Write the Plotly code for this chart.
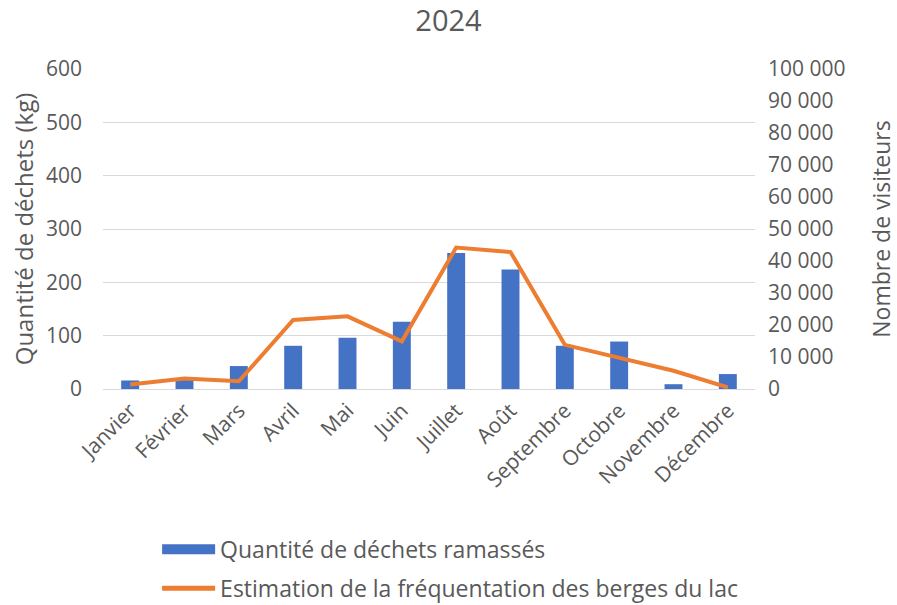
import plotly.graph_objects as go

mois = ["Janvier", "Février", "Mars", "Avril", "Mai", "Juin", "Juillet", "Août",
        "Septembre", "Octobre", "Novembre", "Décembre"]
dechets_kg = [16, 17, 43, 81, 96, 126, 255, 224, 81, 89, 9, 28]
visiteurs = [1400, 3300, 2400, 21600, 22700, 14900, 44200, 42800, 13800, 9900, 5700, 500]

grey = "#595959"
blue = "#4472C4"
orange = "#ED7D31"
font_fam = "Open Sans, Noto Sans, sans-serif"
fs = 21

fig = go.Figure()
fig.add_trace(go.Bar(x=mois, y=dechets_kg, name="Quantité de déchets ramassés",
                     marker=dict(color=blue, line=dict(width=0)), width=0.33, yaxis="y",
                     showlegend=False, legendgroup="a"))
fig.add_trace(go.Scatter(x=mois, y=visiteurs, name="Estimation de la fréquentation des berges du lac",
                         mode="lines", line=dict(color=orange, width=4), yaxis="y2",
                         showlegend=False, legendgroup="b"))
# legend entries (wide symbols as in the reference)
fig.add_trace(go.Scatter(x=[None], y=[None], name="Quantité de déchets ramassés", mode="lines",
                         line=dict(color=blue, width=11), legendgroup="a"))
fig.add_trace(go.Scatter(x=[None], y=[None], name="Estimation de la fréquentation des berges du lac",
                         mode="lines", line=dict(color=orange, width=5), legendgroup="b"))

fig.update_layout(
    width=897, height=605,
    paper_bgcolor="white", plot_bgcolor="white",
    separators=", ",
    font=dict(family=font_fam, color=grey, size=fs),
    title=dict(text="2024", x=0.5, xanchor="center", y=0.966, yanchor="middle",
               font=dict(size=29, color=grey)),
    margin=dict(l=103, r=142, t=69, b=216, autoexpand=False),
    xaxis=dict(tickangle=-45, showgrid=False, showline=True, linecolor="#D9D9D9",
               tickfont=dict(size=fs, color=grey)),
    yaxis=dict(range=[0, 600], dtick=100, showgrid=True, gridcolor="#D9D9D9", zeroline=False,
               ticklabelstandoff=20,
               title=dict(text="Quantité de déchets (kg)", font=dict(size=24, color=grey), standoff=5),
               tickfont=dict(size=fs, color=grey)),
    yaxis2=dict(range=[0, 100000], dtick=10000, overlaying="y", side="right", showgrid=False,
                zeroline=False, tickformat=",d", ticklabelstandoff=12,
                title=dict(text="Nombre de visiteurs", font=dict(size=23, color=grey), standoff=31),
                tickfont=dict(size=fs, color=grey)),
    legend=dict(orientation="v", x=0.083, xanchor="left", y=-0.434, yanchor="top",
                font=dict(size=23, color=grey), tracegroupgap=6, itemwidth=53),
    bargap=0.5,
)

fig.write_html("out.html", config={"displayModeBar": False},
               post_script="document.body.style.margin='0';document.body.style.overflow='hidden';")
